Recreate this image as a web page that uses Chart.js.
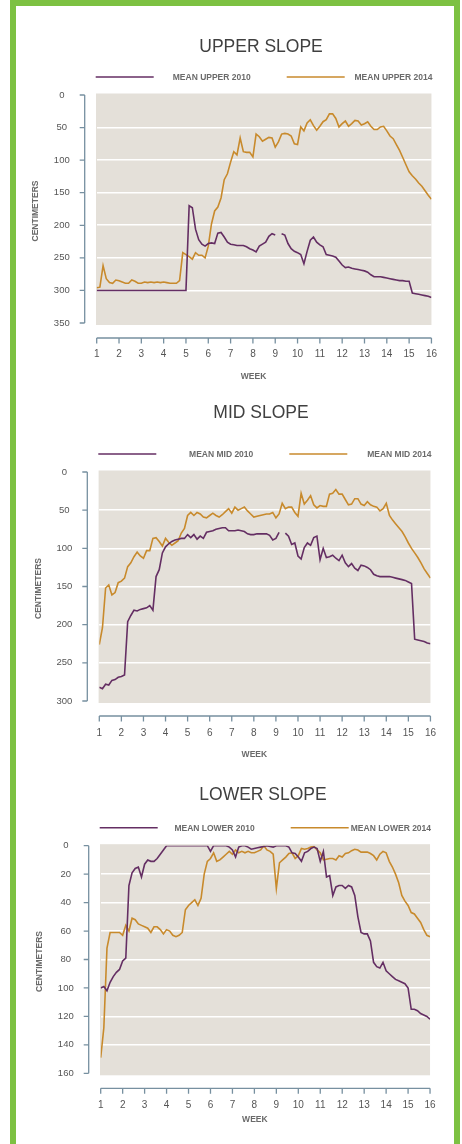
<!DOCTYPE html>
<html>
<head>
<meta charset="utf-8">
<script src="https://cdn.jsdelivr.net/npm/chart.js@4.4.0/dist/chart.umd.min.js"></script>
<style>
  html, body { margin: 0; padding: 0; background: #fff; }
  body { width: 462px; height: 1144px; position: relative; overflow: hidden; }
  .frame { position: absolute; left: 10px; top: 0; width: 438px; height: 1200px; border: 6px solid #7dc142; }
  .band { position: absolute; left: 0; width: 462px; }
</style>
</head>
<body>
<div class="frame"></div>
<div class="band" style="top:0;height:385px"><canvas id="upper-chart"></canvas></div>
<div class="band" style="top:385px;height:380px"><canvas id="mid-chart"></canvas></div>
<div class="band" style="top:765px;height:379px"><canvas id="lower-chart"></canvas></div>
<script>
// one reading per day, week 1 .. week 16
const DAYS_PER_WEEK = 7;
const weekTicks = [1, 2, 3, 4, 5, 6, 7, 8, 9, 10, 11, 12, 13, 14, 15, 16];
const upperTicks = [0, 50, 100, 150, 200, 250, 300, 350];
const midTicks = [0, 50, 100, 150, 200, 250, 300];
const lowerTicks = [0, 20, 40, 60, 80, 100, 120, 140, 160];

const upper2010 = [
  300, 300, 300, 300, 300, 300, 300, 300, 300, 300, 300, 300, 300, 300, 300,
  300, 300, 300, 300, 300, 300, 300, 300, 300, 300, 300, 300, 300, 300, 170,
  173, 206, 222, 229, 232, 228, 227, 228, 212, 211, 218, 226, 229, 230, 231,
  231, 231, 233, 236, 238, 241, 232, 229, 226, 217, 213, 215, null, 213, 215,
  228, 236, 240, 242, 245, 259, 240, 223, 218, 226, 230, 233, 245, 246, 247,
  249, 255, 261, 265, 264, 266, 267, 268, 269, 270, 272, 276, 279, 279, 279,
  280, 281, 282, 283, 284, 285, 285, 286, 286, 304, 305, 306, 307, 308, 309,
  311
];
const upper2014 = [
  296, 295, 262, 282, 288, 289, 284, 285, 287, 289, 289, 284, 286, 289, 289,
  287, 288, 287, 288, 287, 288, 287, 288, 289, 289, 289, 285, 242, 245, 248,
  252, 242, 246, 246, 250, 232, 198, 178, 172, 158, 130, 121, 103, 87, 92,
  66, 87, 88, 88, 95, 60, 64, 71, 68, 65, 66, 80, 72, 60, 59,
  60, 63, 75, 76, 49, 55, 43, 38, 47, 54, 48, 41, 38, 29, 29,
  36, 49, 44, 40, 48, 44, 39, 40, 46, 44, 41, 48, 53, 53, 49,
  48, 55, 63, 67, 76, 85, 96, 107, 118, 124, 129, 135, 140, 147, 154,
  160
];
const mid2010 = [
  282, 284, 278, 279, 273, 272, 269, 268, 266, 196, 188, 181, 182, 180, 179,
  178, 175, 181, 137, 128, 106, 98, 94, 91, 89, 88, 87, 87, 82, 86,
  82, 88, 84, 87, 79, 78, 77, 75, 74, 73, 73, 77, 77, 77, 76,
  77, 78, 81, 82, 82, 81, 81, 81, 81, 83, 89, 87, 79, null, 80,
  84, 95, 93, 110, 114, 99, 93, 96, 86, 84, 115, 100, 112, 111, 109,
  113, 116, 109, 119, 124, 120, 126, 129, 122, 123, 125, 128, 134, 136, 137,
  137, 137, 137, 138, 139, 140, 141, 142, 144, 146, 219, 220, 221, 222, 224,
  225
];
const mid2014 = [
  226, 204, 152, 148, 161, 158, 145, 143, 139, 124, 119, 111, 105, 110, 113,
  103, 103, 87, 86, 91, 97, 87, 92, 96, 93, 90, 80, 74, 57, 53,
  57, 53, 55, 59, 60, 57, 54, 57, 59, 56, 52, 48, 54, 46, 50,
  48, 46, 51, 55, 59, 58, 57, 56, 55, 55, 53, 60, 55, 41, 48,
  46, 46, 53, 58, 28, 42, 37, 31, 43, 47, 44, 45, 45, 29, 28,
  23, 29, 29, 36, 43, 42, 35, 35, 42, 44, 39, 43, 45, 46, 51,
  48, 41, 57, 63, 68, 73, 78, 85, 93, 100, 106, 112, 119, 127, 133,
  139
];
const lower2010 = [
  100, 99, 102, 96, 92, 89, 87, 81, 79, 28, 19, 16, 15, 22, 13,
  10, 11, 11, 9, 6, 3, 0, 0, 0, 0, 0, 0, 0, 0, 0,
  0, 0, 0, 0, 0, 4, 0, 0, 0, 0, 0, 1, 3, 8, 1,
  0, 0, 1, 2.5, 2, 1.5, 1, 0.5, 0, 0.5, 1, 0, 0, 0, 0,
  1, 5, 5.5, 8, 11, 5, 4, 2, 1, 2, 11, 4, 22, 21, 35,
  29, 28, 28, 30, 28, 29, 35, 50, 61, 62, 62, 67, 82, 85, 86,
  82, 88, 90, 92, 94, 95, 96, 97, 100, 115, 115, 116, 118, 119, 120,
  122
];
const lower2014 = [
  149, 128, 72, 61, 61, 61, 61, 63, 56, 60, 51, 52, 55, 56, 57,
  58, 61, 57, 57, 59, 62, 59, 60, 63, 64, 63, 61, 45, 42, 40,
  38, 42, 37, 20, 11, 9, 5, 11, 10, 8, 6, 4, 6, 3, 5,
  4, 5, 4, 5, 5, 4, 3, 0, 3, 4, 6, 30, 12, 10, 8,
  5.5, 5, 9, 7, 2, 2.5, 2, 1, 0.5, 3, 5, 10, 9.5, 9, 9,
  10, 7, 8, 5.5, 5, 3.5, 2.5, 3, 4.5, 4.5, 4.5, 5.5, 7, 10, 6,
  4, 5, 11, 15, 20, 26, 35, 39, 42, 47, 48, 51, 54, 59, 63,
  64
];

const PURPLE = "#642e63";
const ORANGE = "#c88a2c";
const PLOT_BG = "#e4e0d9";
const AXIS_COLOR = "#7790a0";
const FONT = "'Liberation Sans', Arial, Helvetica, sans-serif";
const Y_AXIS_WIDTH = 70;
const X_AXIS_HEIGHT = 40;

function toPoints(values) {
  return values.map((v, i) => ({ x: weekTicks[0] + i / DAYS_PER_WEEK, y: v }));
}

// plot background, offset axes, title, legend and axis titles
const slopeFrame = {
  id: "slopeFrame",
  beforeDraw(chart) {
    const { ctx, chartArea: a } = chart;
    ctx.save();
    ctx.fillStyle = PLOT_BG;
    ctx.fillRect(a.left - 0.7, a.top - 1.5, a.width + 0.7, a.height + 3.5);
    ctx.restore();
  },
  afterDraw(chart, args, opts) {
    const { ctx, chartArea: a, scales: { x, y } } = chart;
    ctx.save();

    // title
    ctx.fillStyle = "#404040";
    ctx.font = "300 17.5px " + FONT;
    ctx.textAlign = "center";
    ctx.textBaseline = "middle";
    ctx.fillText(opts.title, opts.titleX, a.top - opts.titleGap);

    // legend
    const ly = a.top - 18;
    ctx.font = "bold 8.5px " + FONT;
    ctx.fillStyle = "#6b6b6b";
    ctx.textAlign = "right";
    ctx.lineWidth = 1.4;
    const items = [
      { x0: a.left - 1, textRight: a.left + 154 },
      { x0: a.left + 190, textRight: a.right + 1 },
    ];
    chart.data.datasets.forEach((ds, i) => {
      ctx.strokeStyle = ds.borderColor;
      ctx.beginPath();
      ctx.moveTo(items[i].x0, ly);
      ctx.lineTo(items[i].x0 + 58, ly);
      ctx.stroke();
      ctx.fillText(ds.label, items[i].textRight, ly + 0.5);
    });

    // y axis, set off to the left of the plot
    ctx.strokeStyle = AXIS_COLOR;
    ctx.lineWidth = 1.3;
    const ax = a.left - 12;
    ctx.beginPath();
    ctx.moveTo(ax, y.getPixelForValue(y.min));
    ctx.lineTo(ax, y.getPixelForValue(y.max));
    y.ticks.forEach((t) => {
      const py = y.getPixelForValue(t.value);
      ctx.moveTo(ax - 5, py);
      ctx.lineTo(ax, py);
    });
    ctx.stroke();

    // x axis, set off below the plot
    const by = a.bottom + 15;
    ctx.beginPath();
    ctx.moveTo(x.getPixelForValue(x.min), by);
    ctx.lineTo(x.getPixelForValue(x.max), by);
    x.ticks.forEach((t) => {
      const px = x.getPixelForValue(t.value);
      ctx.moveTo(px, by);
      ctx.lineTo(px, by + 5.5);
    });
    ctx.stroke();

    // axis titles
    ctx.fillStyle = "#6a6a6a";
    ctx.font = "bold 8.5px " + FONT;
    ctx.textAlign = "center";
    ctx.fillText("WEEK", (a.left + a.right) / 2 - 10.5, a.bottom + opts.weekGap);
    ctx.translate(a.left - 61, (a.top + a.bottom) / 2 + 2);
    ctx.rotate(-Math.PI / 2);
    ctx.fillText("CENTIMETERS", 0, 0);

    ctx.restore();
  },
};

function makeSlopeChart(canvasId, cfg) {
  const canvas = document.getElementById(canvasId);
  const bandHeight = canvas.parentNode.clientHeight;
  const first = cfg.yTicks[0];
  const last = cfg.yTicks[cfg.yTicks.length - 1];
  const lineStyle = { borderWidth: 1.6, pointRadius: 0, tension: 0, spanGaps: false };

  return new Chart(canvas, {
    type: "line",
    data: {
      datasets: [
        { label: cfg.labels[0], data: toPoints(cfg.series[0]), borderColor: PURPLE, ...lineStyle },
        { label: cfg.labels[1], data: toPoints(cfg.series[1]), borderColor: ORANGE, ...lineStyle },
      ],
    },
    plugins: [slopeFrame],
    options: {
      animation: false,
      responsive: true,
      maintainAspectRatio: false,
      layout: {
        padding: {
          left: cfg.area.left - Y_AXIS_WIDTH,
          right: 462 - cfg.area.right,
          top: cfg.area.top,
          bottom: bandHeight - cfg.area.bottom - X_AXIS_HEIGHT,
        },
      },
      plugins: {
        legend: { display: false },
        title: { display: false },
        tooltip: { enabled: false },
        slopeFrame: {
          title: cfg.title,
          titleX: cfg.titleX,
          titleGap: cfg.titleGap,
          weekGap: cfg.weekGap,
        },
      },
      scales: {
        x: {
          type: "linear",
          min: weekTicks[0],
          max: weekTicks[weekTicks.length - 1],
          afterBuildTicks: (s) => { s.ticks = weekTicks.map((v) => ({ value: v })); },
          afterFit: (s) => { s.height = X_AXIS_HEIGHT; },
          grid: { display: false, drawTicks: false, tickLength: 0 },
          border: { display: false },
          ticks: {
            padding: cfg.xPad,
            maxRotation: 0,
            autoSkip: false,
            color: "#555",
            font: { family: FONT, size: 10 },
          },
        },
        y: {
          type: "linear",
          reverse: true,
          min: first,
          max: last,
          afterBuildTicks: (s) => { s.ticks = cfg.yTicks.map((v) => ({ value: v })); },
          afterFit: (s) => { s.width = Y_AXIS_WIDTH; },
          grid: {
            drawTicks: false,
            tickLength: 0,
            lineWidth: 1.6,
            color: (ctx) =>
              ctx.tick && (ctx.tick.value === first || ctx.tick.value === last)
                ? "rgba(0,0,0,0)"
                : "#ffffff",
          },
          border: { display: false },
          ticks: {
            padding: 27,
            crossAlign: "center",
            color: "#555",
            font: { family: FONT, size: 9.5 },
          },
        },
      },
    },
  });
}

makeSlopeChart("upper-chart", {
  title: "UPPER SLOPE",
  labels: ["MEAN UPPER 2010", "MEAN UPPER 2014"],
  series: [upper2010, upper2014],
  yTicks: upperTicks,
  area: { left: 96.7, right: 432, top: 95, bottom: 323 },
  titleX: 261,
  titleGap: 47.5,
  weekGap: 53.7,
  xPad: 25,
});

makeSlopeChart("mid-chart", {
  title: "MID SLOPE",
  labels: ["MEAN MID 2010", "MEAN MID 2014"],
  series: [mid2010, mid2014],
  yTicks: midTicks,
  area: { left: 99.3, right: 435, top: 87, bottom: 316 },
  titleX: 261,
  titleGap: 59,
  weekGap: 54,
  xPad: 26,
});

makeSlopeChart("lower-chart", {
  title: "LOWER SLOPE",
  labels: ["MEAN LOWER 2010", "MEAN LOWER 2014"],
  series: [lower2010, lower2014],
  yTicks: lowerTicks,
  area: { left: 100.7, right: 435.7, top: 80.7, bottom: 308.3 },
  titleX: 263,
  titleGap: 50.7,
  weekGap: 46.4,
  xPad: 26.4,
});
</script>
</body>
</html>
